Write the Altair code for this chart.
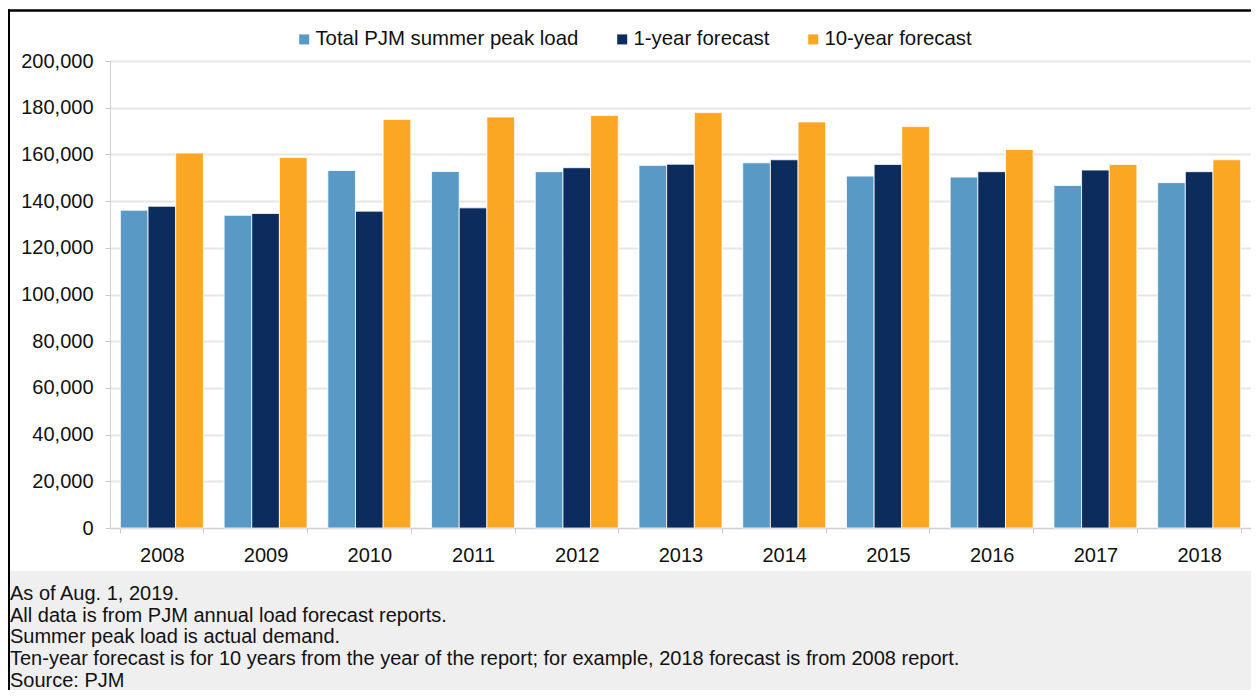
import altair as alt
import pandas as pd

years = ["2008", "2009", "2010", "2011", "2012", "2013", "2014", "2015", "2016", "2017", "2018"]
peak_load = [136100, 133900, 153100, 152700, 152600, 155300, 156400, 150700, 150300, 146700, 147900]
one_year = [137800, 134700, 135700, 137100, 154300, 155800, 157700, 155700, 152600, 153300, 152600]
ten_year = [160600, 158700, 175000, 176000, 176700, 177900, 173900, 171900, 162100, 155700, 157700]

series_names = ["Total PJM summer peak load", "1-year forecast", "10-year forecast"]
series_colors = ["#589AC5", "#0B2C5D", "#FBA724"]

notes = [
    "As of Aug. 1, 2019.",
    "All data is from PJM annual load forecast reports.",
    "Summer peak load is actual demand.",
    "Ten-year forecast is for 10 years from the year of the report; for example, 2018 forecast is from 2008 report.",
    "Source: PJM",
]

rows = []
for i, y in enumerate(years):
    for name, vals in zip(series_names, [peak_load, one_year, ten_year]):
        rows.append({"year": y, "series": name, "value": vals[i]})
df = pd.DataFrame(rows)

FONT = "Liberation Sans"
W, H = 1141, 467

one = pd.DataFrame({"a": [0]})

footer_bg = alt.Chart(one).mark_rect(color="#EFEFEF").encode(
    x=alt.value(-102), x2=alt.value(1145), y=alt.value(510), y2=alt.value(640)
)

bars = alt.Chart(df).mark_bar(stroke="white", strokeWidth=0.8).encode(
    x=alt.X("year:N", sort=years, title=None,
            scale=alt.Scale(paddingInner=0.2, paddingOuter=0.1),
            axis=alt.Axis(labelAngle=0, tickBand="extent", grid=False,
                          labelFontSize=20, labelColor="#111111", labelPadding=12,
                          domainColor="#D0D0D0", tickColor="#C8C8C8", tickSize=5,
                          labelFont=FONT)),
    xOffset=alt.XOffset("series:N", sort=series_names, scale=alt.Scale(paddingInner=0)),
    y=alt.Y("value:Q", title=None,
            scale=alt.Scale(domain=[0, 200000], nice=False),
            axis=alt.Axis(values=list(range(0, 200001, 20000)), format=",d",
                          labelFontSize=20, labelColor="#111111", labelPadding=12,
                          gridColor="#E6E6E6", gridWidth=2, domainColor="#D0D0D0",
                          tickColor="#C8C8C8", tickSize=5, labelFont=FONT)),
    color=alt.Color("series:N", sort=series_names,
                    scale=alt.Scale(domain=series_names, range=series_colors),
                    legend=alt.Legend(title=None, orient="none", direction="horizontal",
                                      legendX=184, legendY=-32,
                                      symbolType="square", symbolSize=100,
                                      symbolStrokeWidth=0, labelLimit=500,
                                      labelFontSize=20.4, labelFont=FONT,
                                      labelColor="#111111", columnPadding=33,
                                      labelOffset=1)),
)

notes_df = pd.DataFrame({"t": ["\n".join(notes)]})
footer_text = alt.Chart(notes_df).mark_text(
    align="left", baseline="alphabetic", lineBreak="\n", lineHeight=21.7,
    fontSize=20, font=FONT, color="#111111"
).encode(x=alt.value(-100), y=alt.value(539), text="t:N")

top_border = alt.Chart(one).mark_rule(color="black", strokeWidth=2.5).encode(
    x=alt.value(-102), x2=alt.value(1145), y=alt.value(-50.5)
)
left_border = alt.Chart(one).mark_rule(color="black", strokeWidth=2).encode(
    x=alt.value(-101), y=alt.value(-51.5), y2=alt.value(640)
)

chart = alt.layer(footer_bg, bars, footer_text, top_border, left_border).properties(
    width=W, height=H,
    autosize=alt.AutoSizeParams(type="none"),
    padding={"left": 102, "top": 53, "right": 0, "bottom": 162},
    background="white",
).configure_view(stroke=None)

chart.save("out.html", embed_options={"renderer": "svg", "actions": False})
